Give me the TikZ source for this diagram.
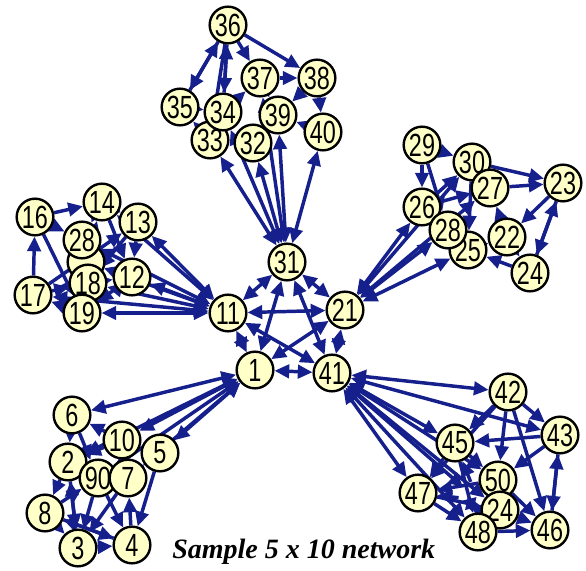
\documentclass[tikz,border=0pt]{standalone}
\usepackage{fontspec}
\setmainfont{Liberation Serif}
\newfontfamily\nodefont{Liberation Sans}
\usetikzlibrary{arrows.meta}
\definecolor{edgeblue}{RGB}{22,32,140}
\definecolor{nodeyellow}{RGB}{255,255,200}
\newcommand\nlab[1]{\scalebox{0.95}[1.3]{#1}}
\tikzset{
  netnode/.style={circle,draw=black,line width=1.8pt,fill=nodeyellow,inner sep=0pt,
    minimum size=27.5pt,font=\nodefont\fontsize{18.5}{18.5}\selectfont},
  edge/.style={draw=edgeblue,line width=2.6pt,-{Triangle[length=11pt,width=10pt]}},
  hubedge/.style={draw=edgeblue,line width=2.6pt,{Triangle[length=11pt,width=10pt]}-{Triangle[length=11pt,width=10pt]}},
}
\begin{document}
\begin{tikzpicture}[x=0.75pt,y=-0.75pt]
\useasboundingbox (0,0) rectangle (586,571);
% node coordinates
\foreach \n/\x/\y in {1/255/370,2/68/462,3/78/548,4/132/545,5/160/453,6/72/415,7/128/478,8/45/513,9/98/478,10/122/440,
 11/228/313,12/132/277,13/138/222,14/102/202,15/86/262,16/35/217,17/33/295,18/88/283,19/82/313,20/82/240,
 21/345/310,22/507/237,23/563/183,24/530/273,25/468/250,26/422/207,27/490/188,28/448/230,29/422/145,30/472/162,
 31/287/262,32/253/143,33/210/140,34/223/112,35/180/107,36/228/25,37/260/78,38/317/78,39/278/115,40/323/132,
 41/332/373,42/508/392,43/560/435,44/500/510,45/455/443,46/550/530,47/418/493,48/478/532,49/478/500,50/498/480}
  \coordinate (c\n) at (\x,\y);
% invisible node shapes for edge clipping
\foreach \n in {1,...,50}
  \node[netnode,draw=none,fill=none] (n\n) at (c\n) {\phantom{00}};
% hub ring
\foreach \a/\b in {1/11,11/31,31/21,21/41,41/1,11/21,1/31,31/41,11/41,1/21}
  \draw[hubedge] (n\a) -- (n\b);
% hubs to cluster members
\foreach \m in {2,5,6,7,9,10} \draw[hubedge] (n1) -- (n\m);
\foreach \m in {12,13,14,15,17,18,19,20} \draw[hubedge] (n11) -- (n\m);
\foreach \m in {25,26,27,28,30} \draw[hubedge] (n21) -- (n\m);
\foreach \m in {32,33,34,37,39,40} \draw[hubedge] (n31) -- (n\m);
\foreach \m in {42,43,44,45,47,48,49,50} \draw[hubedge] (n41) -- (n\m);
% intra-cluster edges
\foreach \a/\b in {6/2,2/8,8/3,3/4,4/7,7/5,5/10,10/6,2/9,9/3,9/4,7/3,8/9,10/2,6/9,5/4,2/3,8/4,10/7,4/8,3/2}
  \draw[edge] (n\a) -- (n\b);
\foreach \a/\b in {16/14,14/13,13/12,12/19,19/17,17/16,16/20,14/20,20/18,18/12,13/18,17/18,19/20,14/12,16/19,17/13,15/14,12/15}
  \draw[edge] (n\a) -- (n\b);
\foreach \a/\b in {29/26,29/30,30/27,27/23,23/22,22/24,24/25,25/28,28/26,26/27,30/23,23/24,22/27,29/28,30/25,25/22,26/30,24/23}
  \draw[edge] (n\a) -- (n\b);
\foreach \a/\b in {36/37,36/38,36/35,36/34,37/38,38/40,40/39,39/32,32/33,33/35,35/34,34/37,37/39,38/39,36/33,35/36,34/36}
  \draw[edge] (n\a) -- (n\b);
\foreach \a/\b in {42/43,42/45,42/50,42/46,43/46,46/43,43/50,45/47,45/50,47/48,48/46,50/44,44/48,47/44,45/48,43/45,50/46,42/47,49/47,48/49,44/46,49/45,50/47}
  \draw[edge] (n\a) -- (n\b);
% nodes (drawing order gives overlaps)
\foreach \n/\t in {1/1,2/2,6/6,10/10,5/5,8/8,3/3,4/4,9/90,7/7,
 11/11,15/{},20/28,16/16,14/14,13/13,12/12,18/18,17/17,19/19,
 21/21,29/29,30/30,27/27,23/23,26/26,25/25,28/28,22/22,24/24,
 31/31,36/36,35/35,33/33,34/34,39/39,32/32,37/37,38/38,40/40,
 41/41,42/42,43/43,45/45,47/47,50/50,44/24,48/48,46/46}
  \node[netnode] at (c\n) {\nlab{\t}};
% caption
\node[anchor=base west,inner sep=0pt,font=\fontsize{21}{21}\selectfont\bfseries\itshape] (cap) at (172,558) {Sample 5 x 10 network};
\end{tikzpicture}
\end{document}
